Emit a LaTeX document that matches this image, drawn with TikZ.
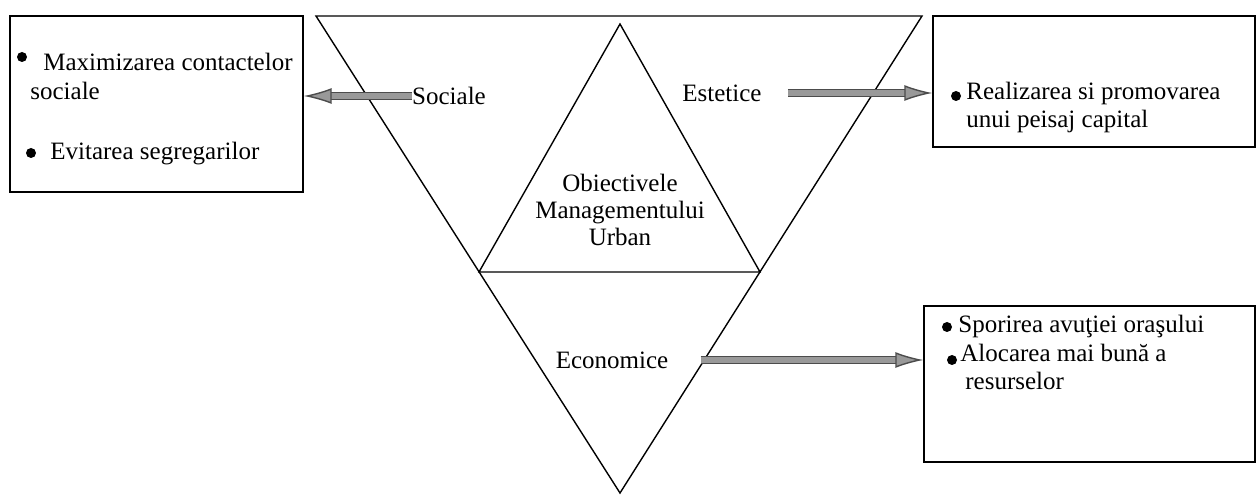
\documentclass[tikz,border=0pt]{standalone}
\usepackage{fontspec}
\setmainfont{Liberation Serif}
\usetikzlibrary{arrows.meta}

\tikzset{
  box/.style={draw, line width=.7pt, inner sep=0pt},
  lbl/.style={inner sep=0pt, font=\fontsize{12.5}{14.5}\selectfont},
  item/.style={lbl, anchor=base west},
  dot/.style={circle, fill, inner sep=0pt, minimum size=5pt},
  fat/.style={draw=black!70, double=black!40, double distance=2.6pt, line width=.7pt,
    -{Latex[length=14pt,width=8pt,fill=black!40]}}
}

\begin{document}
\begin{tikzpicture}[x=0.5pt,y=-0.5pt]
  \useasboundingbox (0,0) rectangle (1259,496);
  % big triangle and inner one
  \coordinate (a1) at (316,16);
  \coordinate (a2) at (922,16);
  \coordinate (a3) at (620,493);
  \coordinate (b1) at (620,24);
  \coordinate (b2) at (760,272);
  \coordinate (b3) at (479,272);
  \draw[line width=.7pt] (a1) -- (a2) -- (a3) -- cycle;
  \draw[line width=.7pt] (b1) -- (b2) -- (b3) -- cycle;

  \node[box, minimum width=146.5pt, minimum height=88pt] (boxsoc) at (156.5,104) {};
  \node[box, minimum width=161pt, minimum height=65.5pt] (boxest) at (1094,81.5) {};
  \node[box, minimum width=165.5pt, minimum height=78pt] (boxeco) at (1089.5,384) {};

  \node[lbl] (soc) at (449,96) {Sociale};
  \node[lbl] (est) at (722,93) {Estetice};
  \node[lbl] (eco) at (612,360) {Economice};
  \node[lbl, align=center, font=\fontsize{12.5}{13.5}\selectfont] (obj) at (620,210) {Obiectivele\\Managementului\\Urban};

  % texts in the boxes
  \node[dot] (d1) at (22,57) {};
  \node[item] (s1) at (43,71) {Maximizarea contactelor};
  \node[item] (s1b) at (30,100) {sociale};
  \node[dot] (d2) at (31,153) {};
  \node[item] (s2) at (50,160) {Evitarea segregarilor};
  \node[dot] (d3) at (956,96) {};
  \node[item] (e1) at (966,100) {Realizarea si promovarea};
  \node[item] (e1b) at (966,128) {unui peisaj capital};
  \node[dot] (d4) at (947,327) {};
  \node[item] (c1) at (958,333) {Sporirea avuţiei oraşului};
  \node[dot] (d5) at (952,360) {};
  \node[item] (c2) at (960,362) {Alocarea mai bună a};
  \node[item] (c2b) at (965,390) {resurselor};

  \draw[fat] (soc.west) -- (boxsoc.east |- soc.west);
  \draw[fat] ([xshift=13pt]est.east) -- (boxest.west |- est.east);
  \draw[fat] ([xshift=16pt]eco.east) -- (boxeco.west |- eco.east);
\end{tikzpicture}
\end{document}
